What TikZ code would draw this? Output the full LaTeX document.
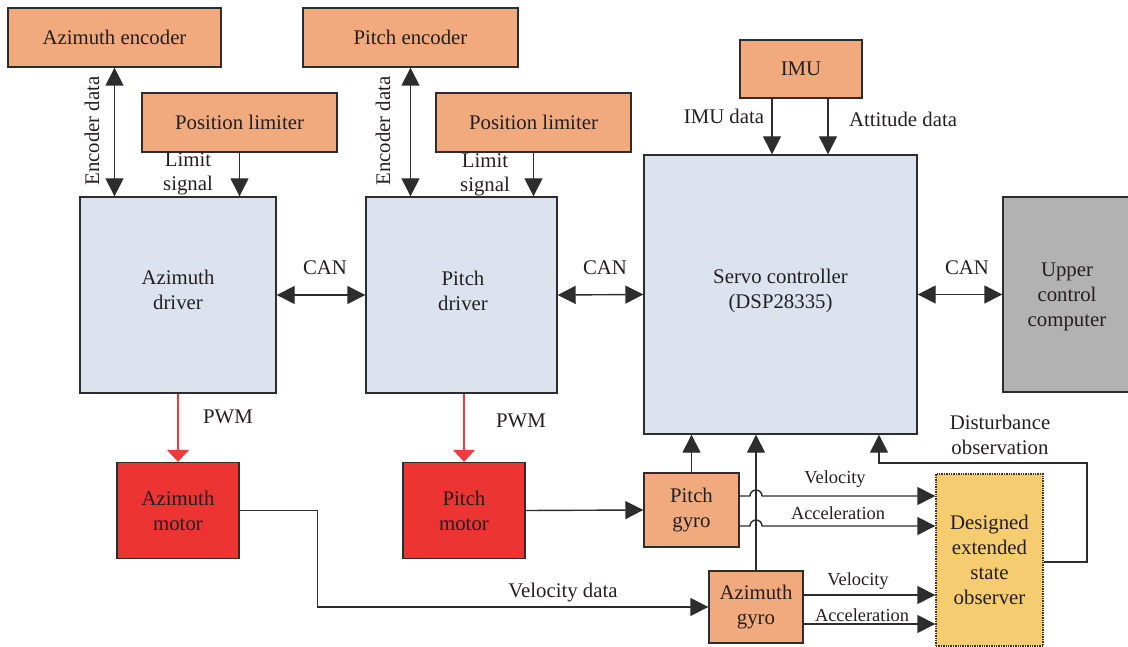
\documentclass[tikz,border=0pt]{standalone}
\usepackage{fontspec}
\setmainfont{Liberation Serif}
\usetikzlibrary{arrows.meta,calc}
\definecolor{orangeC}{RGB}{240,170,126}
\definecolor{blueC}{RGB}{220,227,239}
\definecolor{redC}{RGB}{236,52,50}
\definecolor{grayC}{RGB}{178,178,178}
\definecolor{esoC}{RGB}{245,205,112}
\definecolor{lineC}{RGB}{45,45,45}
\definecolor{txtC}{RGB}{35,31,32}
\definecolor{pwmC}{RGB}{236,60,60}
\begin{document}
\begin{tikzpicture}[x=1pt,y=-1pt,
  font=\fontsize{20.8}{25}\selectfont,
  box/.style={draw=lineC, line width=1.4pt, align=center, text=txtC, inner sep=0pt},
  obox/.style={box, fill=orangeC},
  bbox/.style={box, fill=blueC},
  rbox/.style={box, fill=redC},
  arr/.style={draw=lineC, line width=1.4pt, -{Triangle[length=18pt,width=18pt]}},
  darr/.style={draw=lineC, line width=1.4pt, {Triangle[length=18pt,width=18pt]}-{Triangle[length=18pt,width=18pt]}},
  rarr/.style={draw=pwmC, line width=1.3pt, -{Triangle[length=12pt,width=22pt]}},
  lbl/.style={text=txtC, align=center, inner sep=0pt},
  slbl/.style={lbl, font=\fontsize{18.4}{22}\selectfont}]
\useasboundingbox (0,0) rectangle (1128,647);

% nodes
\node[obox, minimum width=213pt, minimum height=59pt] (azenc) at (114.5,37.5) {Azimuth encoder};
\node[obox, minimum width=195pt, minimum height=59pt] (azlim) at (239.5,122.5) {Position limiter};
\node[bbox, minimum width=196pt, minimum height=196pt] (azdrv) at (178,295) {};
\node[lbl] (azdrvT) at (178,290) {Azimuth\\driver};
\node[obox, minimum width=215pt, minimum height=59pt] (penc) at (410.5,37.5) {Pitch encoder};
\node[obox, minimum width=195pt, minimum height=59pt] (plim) at (533.5,122.5) {Position limiter};
\node[bbox, minimum width=191pt, minimum height=196pt] (pdrv) at (461.5,295) {};
\node[lbl] (pdrvT) at (463,291) {Pitch\\driver};
\node[obox, minimum width=122pt, minimum height=58pt] (imu) at (801,69) {IMU};
\node[bbox, minimum width=273pt, minimum height=279pt] (servo) at (780.5,294.5) {};
\node[lbl] (servoT) at (780.5,290.5) {Servo controller\\(DSP28335)};
\node[box, fill=grayC, minimum width=126pt, minimum height=195pt] (upper) at (1066,294.5) {};
\node[lbl] (upperT) at (1067,297) {Upper\\control\\computer};
\node[rbox, minimum width=122pt, minimum height=96pt] (azmot) at (178,510.5) {Azimuth\\motor};
\node[rbox, minimum width=122pt, minimum height=96pt] (pmot) at (464,510.5) {Pitch\\motor};
\node[obox, minimum width=95pt, minimum height=74pt] (pgyro) at (691.5,510) {Pitch\\gyro};
\node[obox, minimum width=94pt, minimum height=72pt] (agyro) at (756,607) {Azimuth\\gyro};
\node[box, fill=esoC, draw=black!75!esoC, densely dotted, minimum width=107pt, minimum height=172pt] (eso) at (989.5,560) {Designed\\extended\\state\\observer};

% encoder / limiter connections
\draw[darr] (azenc.south) -- (azenc.south |- azdrv.north);
\draw[arr] (azlim.south) -- (azlim.south |- azdrv.north);
\draw[darr] (penc.south) -- (penc.south |- pdrv.north);
\draw[arr] (plim.south) -- (plim.south |- pdrv.north);
\node[lbl, rotate=90] (l1) at (92,131) {Encoder data};
\node[lbl, rotate=90] (l2) at (383,131) {Encoder data};
\node[lbl, font=\fontsize{20.8}{24.5}\selectfont] (l3) at (188,174) {Limit\\signal};
\node[lbl, font=\fontsize{20.8}{24.5}\selectfont] (l4) at (485,175) {Limit\\signal};

% IMU
\draw[arr] ([xshift=-29pt]imu.south) -- ([xshift=-29pt]imu.south |- servo.north);
\draw[arr] ([xshift=27pt]imu.south) -- ([xshift=27pt]imu.south |- servo.north);
\node[lbl] (l5) at (724,116) {IMU data};
\node[lbl] (l6) at (903,119) {Attitude data};

% CAN
\draw[darr] (azdrv.east) -- (pdrv.west);
\draw[darr] (pdrv.east) -- (servo.west);
\draw[darr] (servo.east) -- (upper.west);
\node[lbl] (c1) at (325,268) {CAN};
\node[lbl] (c2) at (605,268) {CAN};
\node[lbl] (c3) at (967,268) {CAN};

% PWM
\draw[rarr] (azdrv.south) -- (azmot.north);
\draw[rarr] (pmot.north |- pdrv.south) -- (pmot.north);
\node[lbl] (p1) at (228,417) {PWM};
\node[lbl] (p2) at (521,421) {PWM};

% motors to gyros
\draw[arr] (azmot.east) -- ++(78,0) |- (agyro.west);
\node[lbl] (vd) at (563,593) {Velocity data};
\draw[arr] (pmot.east) -- (pgyro.west);

% gyros to servo
\draw[arr] (pgyro.north) -- (pgyro.north |- servo.south);
\draw[arr] (agyro.north) -- (agyro.north |- servo.south);

% gyros to ESO
\coordinate (j1) at (750,496);
\coordinate (j2) at (750,526);
\draw[arr] ([yshift=14pt]pgyro.east) -- (j1) arc[start angle=180, end angle=0, radius=6pt] -- (eso.west |- j1);
\draw[arr] ([yshift=-16pt]pgyro.east) -- (j2) arc[start angle=180, end angle=0, radius=6pt] -- (eso.west |- j2);
\draw[arr] ([yshift=12pt]agyro.east) -- (eso.west |- 0,595);
\draw[arr] ([yshift=-17pt]agyro.east) -- (eso.west |- 0,624);
\node[slbl] (v1) at (835,479) {Velocity};
\node[slbl] (a1) at (838,513) {Acceleration};
\node[slbl] (v2) at (858,581) {Velocity};
\node[slbl] (a2) at (862,615) {Acceleration};

% disturbance feedback
\coordinate (dfb) at (879,463);
\draw[arr] ([yshift=-2pt]eso.east) -| (1087,463) -- (dfb) -- (dfb |- servo.south);
\node[lbl] (dl) at (1000,435) {Disturbance\\observation};
\end{tikzpicture}
\end{document}
